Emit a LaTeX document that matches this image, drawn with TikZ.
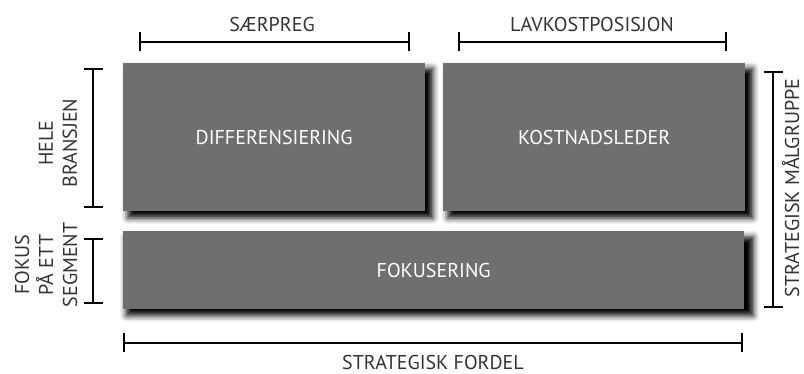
\documentclass[tikz,border=0pt]{standalone}
\usepackage{fontspec}
\setmainfont{PT Sans}
\usetikzlibrary{shadows.blur,arrows.meta}
\definecolor{boxgray}{HTML}{6F6F6F}
\definecolor{labelgray}{HTML}{333333}
\begin{document}
\begin{tikzpicture}[x=1pt,y=-1pt,
  panel/.style={fill=boxgray, draw=none, text=white, inner sep=0pt,
    font=\fontsize{20}{24}\selectfont,
    blur shadow={shadow xshift=6pt, shadow yshift=-6pt, shadow scale=1.01,
      shadow blur radius=6pt, shadow opacity=100}},
  lbl/.style={text=labelgray, font=\fontsize{20}{24}\selectfont,
    align=center, inner sep=0pt},
  span/.style={line width=2pt, {Bar[width=19pt]}-{Bar[width=19pt]}},
]
\useasboundingbox (0,0) rectangle (804,374);

% the three strategy panels
\node[panel, anchor=north west, minimum width=302pt, minimum height=148pt]
  (diff) at (123,63) {DIFFERENSIERING};
\node[panel, anchor=north west, minimum width=302pt, minimum height=148pt]
  (cost) at (443,63) {KOSTNADSLEDER};
\node[panel, anchor=north west, minimum width=621pt, minimum height=78pt]
  (focus) at (123,231) {FOKUSERING};

% span markers
\coordinate (uniqA) at (139,42);  \coordinate (uniqB) at (410,42);
\coordinate (lowA)  at (458,42);  \coordinate (lowB)  at (727,42);
\coordinate (wholeA) at (93,68);  \coordinate (wholeB) at (93,208);
\coordinate (segA)  at (93,238);  \coordinate (segB)  at (93,304);
\coordinate (tgtA)  at (773,71);  \coordinate (tgtB)  at (773,308);
\coordinate (advA)  at (123,343); \coordinate (advB)  at (743,343);

\draw[span] (uniqA) -- (uniqB);
\draw[span] (lowA) -- (lowB);
\draw[span] (wholeA) -- (wholeB);
\draw[span] (segA) -- (segB);
\draw[span] (tgtA) -- (tgtB);
\draw[span] (advA) -- (advB);

% axis labels
\node[lbl, anchor=base] (uniq) at (272,32) {SÆRPREG};
\node[lbl, anchor=base] (low) at (592,32) {LAVKOSTPOSISJON};
\node[lbl, anchor=base] (adv) at (433,370) {STRATEGISK FORDEL};
\node[lbl, rotate=90] (whole) at (58,143) {HELE\\BRANSJEN};
\node[lbl, rotate=90] (seg) at (46,265) {FOKUS\\PÅ ETT\\SEGMENT};
\node[lbl, rotate=90, anchor=base] (tgt) at (799,188) {STRATEGISK MÅLGRUPPE};
\end{tikzpicture}
\end{document}
